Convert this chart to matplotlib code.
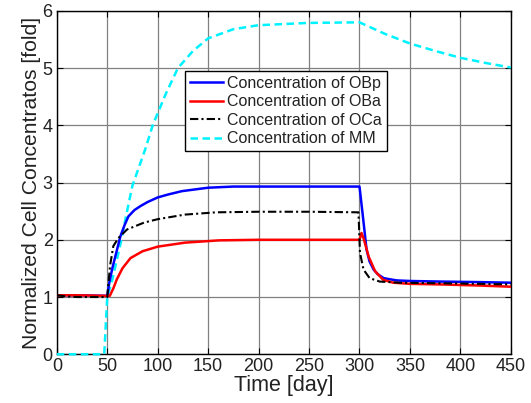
import numpy as np
import matplotlib
matplotlib.use("Agg")
import matplotlib.pyplot as plt

plt.rcParams["font.family"] = ["Liberation Sans", "DejaVu Sans"]

# 读图得到的数值 (time in days, normalized fold)
t_obp = [0, 20, 50, 52, 55, 60, 63, 67, 71, 77, 83, 90, 100, 110, 124, 150, 175, 200, 250,
         300, 303, 307, 310, 314, 318, 324, 330, 337, 350, 380, 420, 450]
obp = [1.03, 1.03, 1.02, 1.25, 1.5, 1.85, 2.06, 2.25, 2.41, 2.52, 2.59, 2.66, 2.74, 2.79, 2.85,
       2.91, 2.93, 2.93, 2.93, 2.93, 2.47, 1.83, 1.62, 1.48, 1.40, 1.33, 1.31, 1.29, 1.28, 1.27,
       1.26, 1.25]

t_oba = [0, 20, 50, 52.5, 56, 59.5, 65, 73, 85, 100, 127, 161, 200, 250,
         300, 302, 304.5, 309, 315.5, 323.5, 333.5, 350, 380, 420, 450]
oba = [1.03, 1.03, 1.02, 1.02, 1.15, 1.31, 1.5, 1.68, 1.80, 1.88, 1.95, 1.99, 2.0, 2.0,
       2.0, 2.12, 2.0, 1.71, 1.45, 1.30, 1.25, 1.23, 1.22, 1.20, 1.18]

t_oca = [0, 10, 20, 50, 52.7, 56, 61, 69.6, 86.4, 100, 127, 158, 200, 250,
         299, 300.5, 304, 310, 320, 340, 380, 420, 450]
oca = [1.03, 1.01, 1.0, 1.0, 1.54, 1.89, 2.03, 2.18, 2.30, 2.36, 2.44, 2.48, 2.49, 2.49,
       2.48, 1.77, 1.48, 1.33, 1.27, 1.25, 1.24, 1.23, 1.22]

t_mm = [0, 47, 48.5, 50, 55, 59.5, 64, 68, 72, 75, 81, 88, 95, 108, 120, 135, 150, 175,
        200, 250, 300, 325, 350, 375, 400, 425, 450]
mm = [0, 0, 0.5, 1.0, 1.3, 1.65, 2.0, 2.36, 2.7, 2.95, 3.25, 3.6, 4.0, 4.55, 5.0, 5.3, 5.52,
      5.68, 5.75, 5.79, 5.8, 5.6, 5.43, 5.3, 5.18, 5.09, 5.01]

labels = ["Concentration of OBp", "Concentration of OBa",
          "Concentration of OCa", "Concentration of MM"]

fig = plt.figure(figsize=(5.31, 4.03), dpi=100)
ax = fig.add_axes([0.107, 0.121, 0.855, 0.852])

ax.plot(t_obp, obp, color="#0000ff", lw=1.8, label=labels[0], zorder=4)
ax.plot(t_oba, oba, color="#ff0000", lw=1.8, label=labels[1], zorder=5)
ax.plot(t_oca, oca, color="black", lw=1.5, ls=(0, (4, 1.5, 1, 1.5)), label=labels[2], zorder=6)
ax.plot(t_mm, mm, color="#00f2ff", lw=1.8, ls=(0, (3, 1.8)), label=labels[3], zorder=3,
        clip_on=False)

ax.set_xlim(0, 450)
ax.set_ylim(0, 6)
ax.set_xticks(np.arange(0, 451, 50))
ax.set_yticks(np.arange(0, 7, 1))
ax.grid(True, color="#808080", lw=0.9, ls="-")
ax.set_axisbelow(True)
ax.tick_params(direction="in", top=True, right=True, length=4, labelsize=13,
               labelcolor="#222222", pad=3)
for sp in ax.spines.values():
    sp.set_linewidth(1.0)
    sp.set_zorder(2.5)

ax.set_xlabel("Time [day]", fontsize=15.5, color="#222222", labelpad=0)
ax.set_ylabel("Normalized Cell Concentratos [fold]", fontsize=15.2, color="#222222",
              labelpad=1)

leg = ax.legend(loc="upper left", bbox_to_anchor=(0.282, 0.826), fontsize=11.5,
                frameon=True, fancybox=False, edgecolor="black", framealpha=1,
                handlelength=2.1, handletextpad=0.2, borderpad=0.32, labelspacing=0.22,
                borderaxespad=0)
leg.get_frame().set_linewidth(1.0)
for txt in leg.get_texts():
    txt.set_color("#222222")

fig.savefig("out.png", dpi=100)
